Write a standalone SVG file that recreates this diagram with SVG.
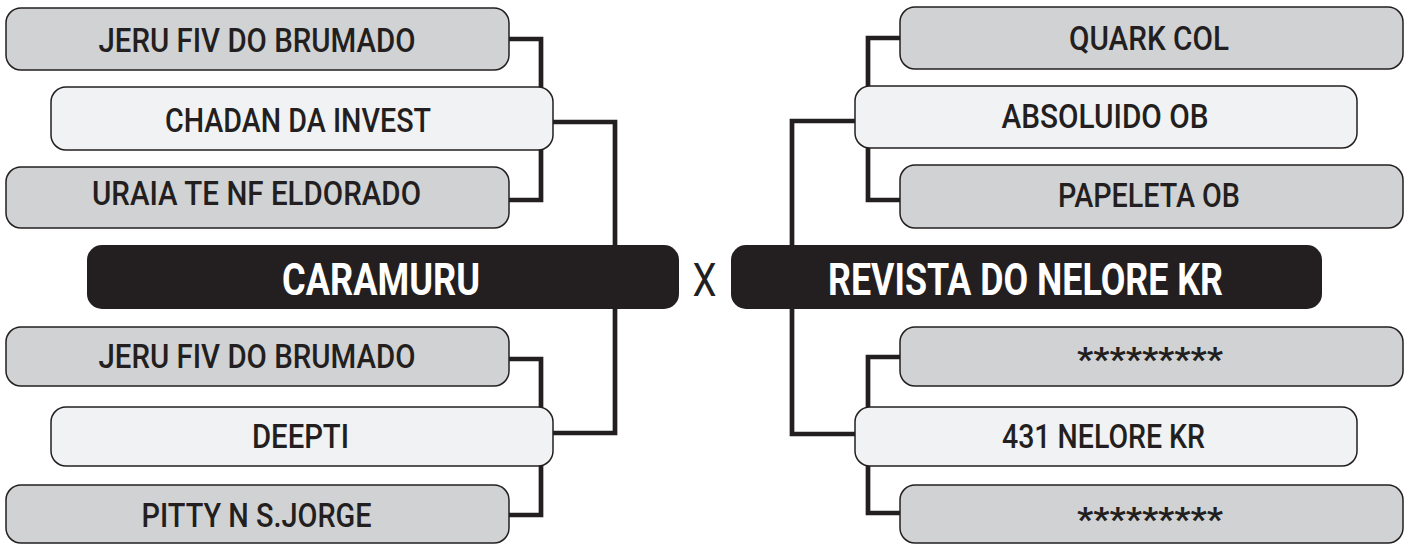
<svg xmlns="http://www.w3.org/2000/svg" width="1408" height="544" viewBox="0 0 1408 544">
<style>
.g{fill:#d1d2d4;stroke:#231f20;stroke-width:1.5}
.l{fill:#f1f2f3;stroke:#231f20;stroke-width:1.5}
.d{fill:#231f20;stroke:none}
.c{fill:none;stroke:#231f20;stroke-width:4.7;stroke-linejoin:miter}
.t{font-family:Roboto,"Liberation Sans",sans-serif;font-weight:500;font-size:34px;fill:#231f20;text-anchor:middle}
.s{font-weight:700}
.b{font-family:Roboto,"Liberation Sans",sans-serif;font-weight:700;font-size:45px;fill:#ffffff;text-anchor:middle}
.x{font-family:Roboto,"Liberation Sans",sans-serif;font-weight:400;font-size:47px;fill:#231f20;text-anchor:middle}
</style>
<rect width="1408" height="544" fill="#ffffff"/>
<g id="connectors">
<path class="c" d="M509 39 H541 V200 H509"/>
<path class="c" d="M553 122 H615 V433 H553"/>
<path class="c" d="M509 359 H541 V515 H509"/>
<path class="c" d="M900 38 H868 V200 H900"/>
<path class="c" d="M855 121 H792 V434 H855"/>
<path class="c" d="M900 357 H868 V513 H900"/>
</g>
<g id="n-jeru1"><rect class="g" x="6" y="8" width="503" height="62" rx="15"/><text class="t" x="257" y="52" textLength="317" lengthAdjust="spacingAndGlyphs">JERU FIV DO BRUMADO</text></g>
<g id="n-chadan"><rect class="l" x="51" y="87" width="502" height="63" rx="15"/><text class="t" x="298" y="132" textLength="266" lengthAdjust="spacingAndGlyphs">CHADAN DA INVEST</text></g>
<g id="n-uraia"><rect class="g" x="6" y="167" width="503" height="61" rx="15"/><text class="t" x="256.5" y="205" textLength="329" lengthAdjust="spacingAndGlyphs">URAIA TE NF ELDORADO</text></g>
<g id="n-caramuru"><rect class="d" x="87" y="245" width="592" height="64" rx="15"/><text class="b" x="381" y="295" textLength="198" lengthAdjust="spacingAndGlyphs">CARAMURU</text></g>
<g id="n-x"><text class="x" x="704.5" y="296" textLength="24" lengthAdjust="spacingAndGlyphs">X</text></g>
<g id="n-revista"><rect class="d" x="731" y="245" width="591" height="64" rx="15"/><text class="b" x="1025.5" y="295" textLength="395" lengthAdjust="spacingAndGlyphs">REVISTA DO NELORE KR</text></g>
<g id="n-jeru2"><rect class="g" x="6" y="327" width="503" height="59" rx="15"/><text class="t" x="257" y="368" textLength="317" lengthAdjust="spacingAndGlyphs">JERU FIV DO BRUMADO</text></g>
<g id="n-deepti"><rect class="l" x="51" y="407" width="502" height="59" rx="15"/><text class="t" x="300.5" y="448" textLength="97" lengthAdjust="spacingAndGlyphs">DEEPTI</text></g>
<g id="n-pitty"><rect class="g" x="6" y="485" width="503" height="58" rx="15"/><text class="t" x="256.6" y="527" textLength="230" lengthAdjust="spacingAndGlyphs">PITTY N S.JORGE</text></g>
<g id="n-quark"><rect class="g" x="900" y="7" width="503" height="62" rx="15"/><text class="t" x="1149" y="50" textLength="160" lengthAdjust="spacingAndGlyphs">QUARK COL</text></g>
<g id="n-absoluido"><rect class="l" x="855" y="86" width="502" height="62" rx="15"/><text class="t" x="1105" y="128" textLength="207" lengthAdjust="spacingAndGlyphs">ABSOLUIDO OB</text></g>
<g id="n-papeleta"><rect class="g" x="900" y="165" width="503" height="63" rx="15"/><text class="t" x="1149" y="207" textLength="182" lengthAdjust="spacingAndGlyphs">PAPELETA OB</text></g>
<g id="n-stars1"><rect class="g" x="900" y="327" width="503" height="59" rx="15"/><text class="t s" x="1150" y="371" textLength="146" lengthAdjust="spacingAndGlyphs">*********</text></g>
<g id="n-431"><rect class="l" x="855" y="407" width="502" height="59" rx="15"/><text class="t" x="1103.5" y="448" textLength="203" lengthAdjust="spacingAndGlyphs">431 NELORE KR</text></g>
<g id="n-stars2"><rect class="g" x="900" y="485" width="503" height="58" rx="15"/><text class="t s" x="1150" y="531" textLength="146" lengthAdjust="spacingAndGlyphs">*********</text></g>
</svg>
